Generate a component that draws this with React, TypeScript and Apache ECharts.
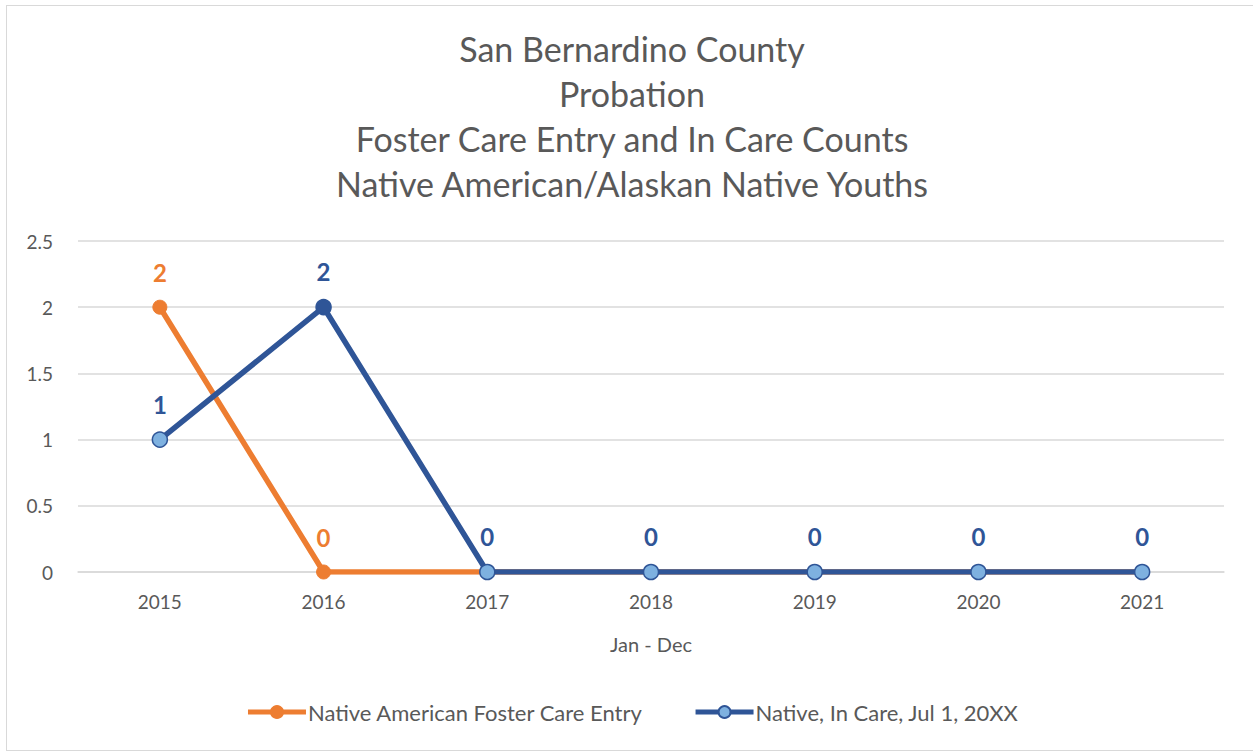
import React, { useEffect, useRef } from "react";
import * as echarts from "echarts";

const categories = ["2015", "2016", "2017", "2018", "2019", "2020", "2021"];
const entryValues = [2, 0, 0, 0, 0, 0, 0];
const inCareValues = [1, 2, 0, 0, 0, 0, 0];
const titleLines = [
  "San Bernardino County",
  "Probation",
  "Foster Care Entry and In Care Counts",
  "Native American/Alaskan Native Youths",
];
const seriesNames = ["Native American Foster Care Entry", "Native, In Care, Jul 1, 20XX"];

const ORANGE = "#ED7D31";
const BLUE = "#2F5597";
const LIGHT_BLUE = "#7EB1E0";
const FONT = "Lato, 'Open Sans', sans-serif";

export default function App() {
  const ref = useRef<HTMLDivElement>(null);
  useEffect(() => {
    document.body.style.margin = "0";
    const chart = echarts.init(ref.current!, undefined, { renderer: "svg" });
    chart.setOption({
      animation: false,
      textStyle: { fontFamily: FONT },
      title: {
        text: titleLines.join("\n"),
        left: "center",
        top: 15,
        textStyle: { fontSize: 34, fontWeight: "normal", color: "#595959", lineHeight: 45, fontFamily: FONT },
      },
      grid: { left: 71, right: 33, top: 235, bottom: 178, containLabel: false },
      legend: {
        bottom: 22,
        left: "center",
        itemWidth: 58,
        itemHeight: 15,
        itemGap: 50,
        lineStyle: { width: 5 },
        textStyle: { fontSize: 22, color: "#595959", fontFamily: FONT, padding: [0, 0, 0, -3] },
        data: seriesNames,
      },
      xAxis: {
        type: "category",
        data: categories,
        boundaryGap: true,
        name: "Jan - Dec",
        nameLocation: "middle",
        nameGap: 62,
        nameTextStyle: { fontSize: 20, color: "#595959" },
        axisLine: { show: true, lineStyle: { color: "#D9D9D9", width: 1.5 } },
        axisTick: { show: false },
        axisLabel: { fontSize: 19, color: "#595959", margin: 20 },
      },
      yAxis: {
        type: "value",
        min: 0,
        max: 2.5,
        interval: 0.5,
        axisLine: { show: false },
        axisTick: { show: false },
        axisLabel: { fontSize: 19, color: "#595959", margin: 25 },
        splitLine: { lineStyle: { color: "#D9D9D9", width: 1.5 } },
      },
      series: [
        {
          name: seriesNames[0],
          type: "line",
          data: entryValues.map((v, i) => (i >= 2 ? { value: v, label: { show: false } } : v)),
          symbol: "circle",
          symbolSize: 14,
          lineStyle: { color: ORANGE, width: 5.5 },
          itemStyle: { color: ORANGE, borderColor: ORANGE, borderWidth: 1 },
          label: { show: true, position: "top", distance: 15, fontSize: 24, fontWeight: "bold", color: ORANGE },
          z: 2,
        },
        {
          name: seriesNames[1],
          type: "line",
          data: inCareValues.map((v, i) =>
            i === 1 ? { value: v, itemStyle: { color: BLUE, borderColor: BLUE } } : v
          ),
          symbol: "circle",
          symbolSize: 15,
          lineStyle: { color: BLUE, width: 5.5 },
          itemStyle: { color: LIGHT_BLUE, borderColor: BLUE, borderWidth: 1.5 },
          label: { show: true, position: "top", distance: 15, fontSize: 24, fontWeight: "bold", color: BLUE },
          z: 3,
        },
      ],
    });
    return () => chart.dispose();
  }, []);
  return (
    <div style={{ position: "relative", width: 1253, height: 752, overflow: "hidden", background: "#fff" }}>
      <div
        ref={ref}
        style={{
          position: "absolute",
          left: 6,
          top: 5,
          width: 1252,
          height: 746,
          border: "1px solid #D9D9D9",
          boxSizing: "border-box",
          background: "#fff",
        }}
      />
    </div>
  );
}
